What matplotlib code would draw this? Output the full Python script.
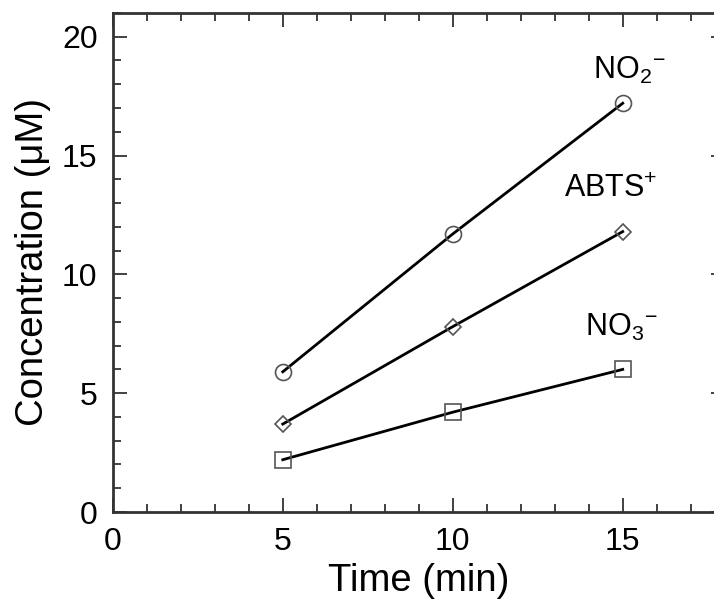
import matplotlib.pyplot as plt
from matplotlib.ticker import MultipleLocator

plt.rcParams['font.family'] = ['Liberation Sans', 'DejaVu Sans']
plt.rcParams['mathtext.fontset'] = 'custom'
plt.rcParams['mathtext.rm'] = 'Liberation Sans'
plt.rcParams['mathtext.it'] = 'Liberation Sans'

## Data
time = [5, 10, 15]
no2 = [5.9, 11.7, 17.2]
abts = [3.7, 7.8, 11.8]
no3 = [2.2, 4.2, 6.0]

fig = plt.figure(figsize=(7.14, 6.02), dpi=100)
ax = fig.add_axes([0.158, 0.1495, 0.857, 0.829])

edge = '#555555'
ax.plot(time, no2, color='black', lw=2, marker='o', ms=11.5, mfc='none', mec=edge, mew=1.2)
ax.plot(time, abts, color='black', lw=2, marker='D', ms=8.5, mfc='none', mec=edge, mew=1.2)
ax.plot(time, no3, color='black', lw=2, marker='s', ms=12, mfc='none', mec=edge, mew=1.2)

# species labels (charge placed after the subscript, as in the original)
ax.text(15.2, 18.6, r'NO$_2{}^{-}$', fontsize=22, ha='center', va='center')
ax.text(14.65, 13.6, r'ABTS$^{+}$', fontsize=22, ha='center', va='center')
ax.text(14.95, 7.75, r'NO$_3{}^{-}$', fontsize=22, ha='center', va='center')

ax.set_xlim(0, 18)
ax.set_ylim(0, 21)
ax.xaxis.set_major_locator(MultipleLocator(5))
ax.xaxis.set_minor_locator(MultipleLocator(1))
ax.yaxis.set_major_locator(MultipleLocator(5))
ax.yaxis.set_minor_locator(MultipleLocator(1))
ax.tick_params(which='both', direction='in', top=True, right=True, labelsize=23, width=1.3, color='#333333', pad=11)
ax.tick_params(which='major', length=10)
ax.tick_params(which='minor', length=6)
for s in ax.spines.values():
    s.set_linewidth(2)
    s.set_color('#333333')

ax.set_xlabel('Time (min)', fontsize=27.5, labelpad=4)
ax.set_ylabel('Concentration (\u03bcM)', fontsize=27.5, labelpad=8)

fig.savefig('out.png', dpi=100)
